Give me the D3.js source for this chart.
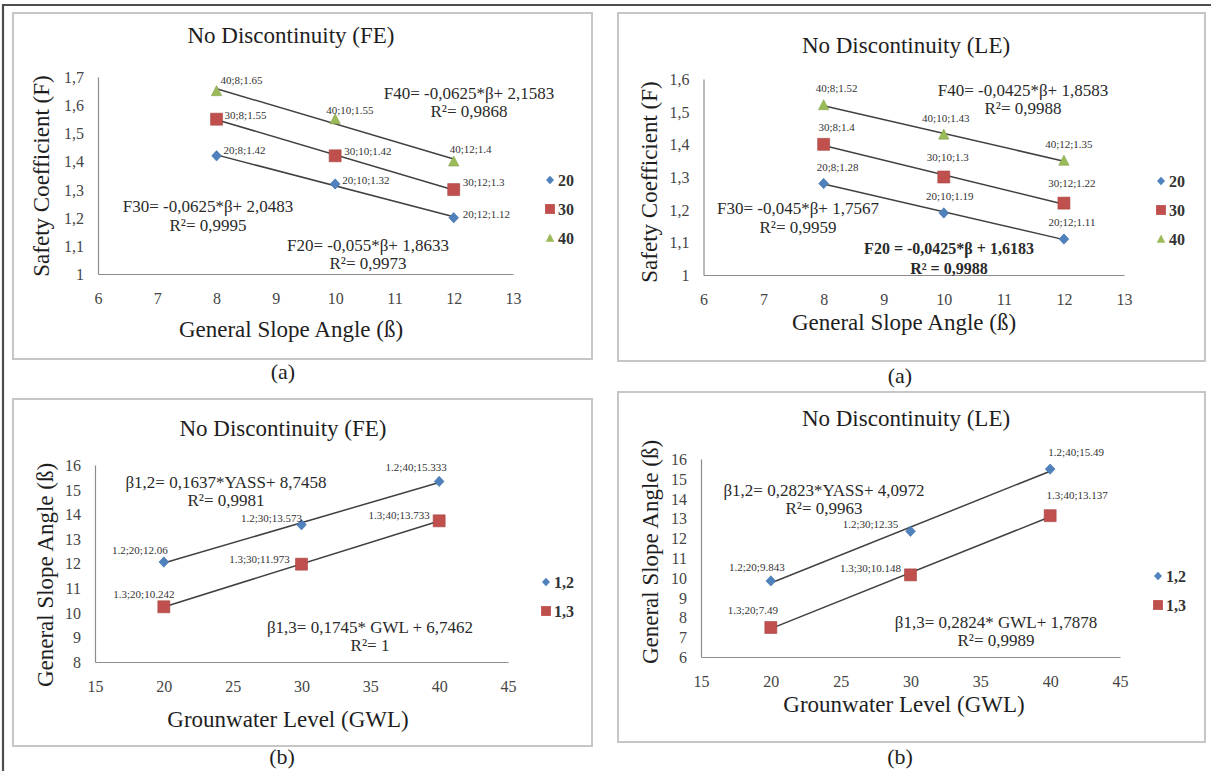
<!DOCTYPE html>
<html>
<head>
<meta charset="utf-8">
<script src="https://cdn.jsdelivr.net/npm/d3@7"></script>
<style>
  body { margin: 0; background: #fff; }
  svg { display: block; }
  text { font-family: "Liberation Serif", "Times New Roman", serif; }
</style>
</head>
<body>
<div id="fig"></div>
<script>
// values
var betaVals = [8, 10, 12]
var gwlVals = [20, 30, 40]

var feF20 = [1.42, 1.32, 1.20]
var feF30 = [1.55, 1.42, 1.30]
var feF40 = [1.65, 1.55, 1.40]
var leF20 = [1.28, 1.19, 1.11]
var leF30 = [1.40, 1.30, 1.22]
var leF40 = [1.52, 1.43, 1.35]

var feB12 = [12.06, 13.573, 15.333]
var feB13 = [10.242, 11.973, 13.733]
var leB12 = [9.843, 12.35, 15.49]
var leB13 = [7.49, 10.148, 13.137]

// point labels, as printed
var feF20Lab = ['20;8;1.42', '20;10;1.32', '20;12;1.12']
var feF30Lab = ['30;8;1.55', '30;10;1.42', '30;12;1.3']
var feF40Lab = ['40;8;1.65', '40;10;1.55', '40;12;1.4']
var leF20Lab = ['20;8;1.28', '20;10;1.19', '20;12;1.11']
var leF30Lab = ['30;8;1.4', '30;10;1.3', '30;12;1.22']
var leF40Lab = ['40;8;1.52', '40;10;1.43', '40;12;1.35']
var feB12Lab = ['1.2;20;12.06', '1.2;30;13.573', '1.2;40;15.333']
var feB13Lab = ['1.3;20;10.242', '1.3;30;11.973', '1.3;40;13.733']
var leB12Lab = ['1.2;20;9.843', '1.2;30;12.35', '1.2;40;15.49']
var leB13Lab = ['1.3;20;7.49', '1.3;30;10.148', '1.3;40;13.137']

// ticks
var betaTicks = [6, 7, 8, 9, 10, 11, 12, 13]
var feFTicks = [1, 1.1, 1.2, 1.3, 1.4, 1.5, 1.6, 1.7]
var leFTicks = [1, 1.1, 1.2, 1.3, 1.4, 1.5, 1.6]
var gwlTicks = [15, 20, 25, 30, 35, 40, 45]
var feBTicks = [8, 9, 10, 11, 12, 13, 14, 15, 16]
var leBTicks = [6, 7, 8, 9, 10, 11, 12, 13, 14, 15, 16]

// trendline equations, as printed
var feFEq = [['F40= -0,0625*β+ 2,1583', 'R²= 0,9868'], ['F30= -0,0625*β+ 2,0483', 'R²= 0,9995'], ['F20= -0,055*β+ 1,8633', 'R²= 0,9973']]
var leFEq = [['F40= -0,0425*β+ 1,8583', 'R²= 0,9988'], ['F30= -0,045*β+ 1,7567', 'R²= 0,9959'], ['F20 = -0,0425*β + 1,6183', 'R² = 0,9988']]
var feBEq = [['β1,2= 0,1637*YASS+ 8,7458', 'R²= 0,9981'], ['β1,3= 0,1745* GWL + 6,7462', 'R²= 1']]
var leBEq = [['β1,2= 0,2823*YASS+ 4,0972', 'R²= 0,9963'], ['β1,3= 0,2824*  GWL+ 1,7878', 'R²= 0,9989']]

var blue = '#4f81bd', red = '#c0504d', green = '#9bbb59'
var shapes = {
  diamond: 'M0,-5.2L4.9,0L0,5.2L-4.9,0Z',
  square: 'M-6,-6h12v12h-12Z',
  triangle: 'M0,-5.5L5.2,4.6L-5.2,4.6Z'
}

var svg = d3.select('#fig').append('svg').attr('width', 1211).attr('height', 771)

// outer frame (only top and left show)
svg.append('path').attr('d', 'M3,771V5H1211')
  .attr('fill', 'none').attr('stroke', '#4d4d4d').attr('stroke-width', 2.2)

function txt(g, x, y, s, size, o) {
  o = o || {}
  return g.append('text')
    .attr('x', x).attr('y', y)
    .attr('font-size', size)
    .attr('font-weight', o.bold ? 'bold' : null)
    .attr('text-anchor', o.anchor || 'middle')
    .attr('fill', o.fill || '#1e1e1e')
    .text(s)
}

function linReg(xs, ys) {
  var mx = d3.mean(xs), my = d3.mean(ys)
  var b = d3.sum(xs, (v, i) => (v - mx) * (ys[i] - my)) / d3.sum(xs, v => (v - mx) * (v - mx))
  return {b: b, a: my - b * mx}
}

var fmt = d => String(d).replace('.', ',')

function panel(p) {
  var g = svg.append('g')
  g.append('rect')
    .attr('x', p.box[0]).attr('y', p.box[1])
    .attr('width', p.box[2] - p.box[0]).attr('height', p.box[3] - p.box[1])
    .attr('fill', '#fff').attr('stroke', '#c6c6c6').attr('stroke-width', 2)

  var x = d3.scaleLinear().domain(d3.extent(p.xTicks)).range(p.xRange)
  var y = d3.scaleLinear().domain(d3.extent(p.yTicks)).range(p.yRange)

  var xa = g.append('g').attr('transform', 'translate(0,' + p.yRange[0] + ')')
    .call(d3.axisBottom(x).tickValues(p.xTicks).tickFormat(fmt).tickSize(0))
  xa.selectAll('text').attr('y', 30).attr('dy', null)
  var ya = g.append('g').attr('transform', 'translate(' + p.xRange[0] + ',0)')
    .call(d3.axisLeft(y).tickValues(p.yTicks).tickFormat(fmt).tickSize(0))
  ya.selectAll('text').attr('x', -14).attr('dy', '0.34em')
  g.selectAll('.domain').attr('stroke', '#8c8c8c').attr('stroke-width', 1.2)
  g.selectAll('.tick text').attr('font-size', 16).attr('fill', '#454545')
    .attr('font-family', '"Liberation Serif", "Times New Roman", serif')

  // trendlines under markers
  p.series.forEach(function (s) {
    var r = linReg(s.xs, s.ys)
    var x0 = d3.min(s.xs), x1 = d3.max(s.xs)
    g.append('line')
      .attr('x1', x(x0)).attr('y1', y(r.a + r.b * x0))
      .attr('x2', x(x1)).attr('y2', y(r.a + r.b * x1))
      .attr('stroke', '#404040').attr('stroke-width', 1.5)
  })

  p.series.forEach(function (s) {
    s.xs.forEach(function (v, i) {
      g.append('path').attr('d', shapes[s.shape])
        .attr('transform', 'translate(' + x(v) + ',' + y(s.ys[i]) + ')')
        .attr('fill', s.color).attr('stroke', d3.color(s.color).darker(0.4)).attr('stroke-width', 0.6)
      var off = s.off[i]
      txt(g, x(v) + off[0], y(s.ys[i]) + off[1], s.labels[i], 11, {anchor: p.labelAnchor, fill: '#333'})
    })
  })

  // legend
  p.series.forEach(function (s, i) {
    var ly = p.legend[1] + i * p.legendStep
    g.append('path').attr('d', shapes[s.shape])
      .attr('transform', 'translate(' + p.legend[0] + ',' + ly + ') scale(0.82)')
      .attr('fill', s.color)
    txt(g, p.legend[0] + 8, ly + 5.5, s.name, 16, {anchor: 'start', bold: true, fill: '#333'})
  })

  // equations
  p.eqs.forEach(function (e) {
    e.lines.forEach(function (l, j) {
      txt(g, e.at[0], e.at[1] + j * e.gap, l, e.bold ? 16 : 17, {bold: e.bold, fill: '#2a2a2a'})
    })
  })

  txt(g, p.title[0], p.title[1], p.titleText, 23)
  txt(g, p.xTitle[0], p.xTitle[1], p.xTitleText, 23)
  g.append('text')
    .attr('transform', 'translate(' + p.yTitle[0] + ',' + p.yTitle[1] + ') rotate(-90)')
    .attr('text-anchor', 'middle').attr('font-size', 23).attr('fill', '#1e1e1e')
    .text(p.yTitleText)
  txt(g, p.caption[0], p.caption[1], p.captionText, 22)
}

panel({
  box: [13, 13, 592, 359],
  xTicks: betaTicks, yTicks: feFTicks, xRange: [98, 513], yRange: [274, 77],
  titleText: 'No Discontinuity (FE)', title: [291, 43],
  xTitleText: 'General Slope Angle (ß)', xTitle: [291, 337],
  yTitleText: 'Safety Coefficient (F)', yTitle: [49, 176],
  captionText: '(a)', caption: [283, 379],
  legend: [550, 180], legendStep: 29, labelAnchor: 'start',
  series: [
    {name: '20', xs: betaVals, ys: feF20, labels: feF20Lab, shape: 'diamond', color: blue, off: [[7, -2], [7, 0], [9, 0]]},
    {name: '30', xs: betaVals, ys: feF30, labels: feF30Lab, shape: 'square', color: red, off: [[8, 0], [9, -1], [9, -4]]},
    {name: '40', xs: betaVals, ys: feF40, labels: feF40Lab, shape: 'triangle', color: green, off: [[4, -7], [-9, -5], [-4, -8]]}
  ],
  eqs: [
    {lines: feFEq[0], at: [469, 99], gap: 18},
    {lines: feFEq[1], at: [208, 212], gap: 19},
    {lines: feFEq[2], at: [368, 251], gap: 18}
  ]
})

panel({
  box: [618, 13, 1205, 361],
  xTicks: betaTicks, yTicks: leFTicks, xRange: [703.5, 1124], yRange: [275, 79],
  titleText: 'No Discontinuity (LE)', title: [906, 53],
  xTitleText: 'General Slope Angle (ß)', xTitle: [904, 330],
  yTitleText: 'Safety Coefficient (F)', yTitle: [657, 182],
  captionText: '(a)', caption: [900, 383],
  legend: [1161, 181], legendStep: 29, labelAnchor: 'middle',
  series: [
    {name: '20', xs: betaVals, ys: leF20, labels: leF20Lab, shape: 'diamond', color: blue, off: [[14, -13], [6, -13], [8, -13]]},
    {name: '30', xs: betaVals, ys: leF30, labels: leF30Lab, shape: 'square', color: red, off: [[13, -13], [4, -16], [8, -16]]},
    {name: '40', xs: betaVals, ys: leF40, labels: leF40Lab, shape: 'triangle', color: green, off: [[13, -13], [2, -13], [5, -13]]}
  ],
  eqs: [
    {lines: leFEq[0], at: [1023, 96], gap: 18},
    {lines: leFEq[1], at: [798, 214], gap: 19},
    {lines: leFEq[2], at: [949, 254], gap: 20, bold: true}
  ]
})

panel({
  box: [13, 399, 592, 746],
  xTicks: gwlTicks, yTicks: feBTicks, xRange: [95, 508], yRange: [662, 465],
  titleText: 'No Discontinuity (FE)', title: [283, 436],
  xTitleText: 'Grounwater Level (GWL)', xTitle: [288, 727],
  yTitleText: 'General Slope Angle (ß)', yTitle: [53, 575],
  captionText: '(b)', caption: [282, 764],
  legend: [546, 582], legendStep: 29, labelAnchor: 'middle',
  series: [
    {name: '1,2', xs: gwlVals, ys: feB12, labels: feB12Lab, shape: 'diamond', color: blue, off: [[-24, -8], [-30, -3], [-23, -10]]},
    {name: '1,3', xs: gwlVals, ys: feB13, labels: feB13Lab, shape: 'square', color: red, off: [[-20, -9], [-42, -1], [-40, -2]]}
  ],
  eqs: [
    {lines: feBEq[0], at: [226, 488], gap: 18},
    {lines: feBEq[1], at: [370, 633], gap: 18}
  ]
})

panel({
  box: [618, 392, 1205, 742],
  xTicks: gwlTicks, yTicks: leBTicks, xRange: [701, 1120], yRange: [657, 459],
  titleText: 'No Discontinuity (LE)', title: [906, 426],
  xTitleText: 'Grounwater Level (GWL)', xTitle: [904, 712],
  yTitleText: 'General Slope Angle (ß)', yTitle: [658, 552],
  captionText: '(b)', caption: [900, 764],
  legend: [1158, 576], legendStep: 29, labelAnchor: 'middle',
  series: [
    {name: '1,2', xs: gwlVals, ys: leB12, labels: leB12Lab, shape: 'diamond', color: blue, off: [[-14, -10], [-40, -3], [26, -13]]},
    {name: '1,3', xs: gwlVals, ys: leB13, labels: leB13Lab, shape: 'square', color: red, off: [[-18, -13], [-40, -3], [27, -17]]}
  ],
  eqs: [
    {lines: leBEq[0], at: [824, 496], gap: 18},
    {lines: leBEq[1], at: [996, 628], gap: 18}
  ]
})
</script>
</body>
</html>
